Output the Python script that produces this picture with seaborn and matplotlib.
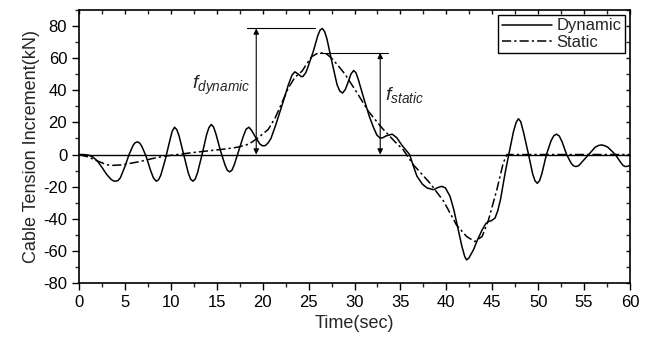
import pandas as pd
import seaborn as sns
import matplotlib.pyplot as plt

# -----------------------------------
# DATA
# -----------------------------------

dyn_time = [0, 0.5, 1.0, 1.5, 2.0, 2.5, 3.0, 3.5, 3.75, 4.0, 4.25, 4.5, 5.0,
            5.45, 5.9, 6.1, 6.35, 6.6, 6.85, 7.3, 7.8, 8.1, 8.4, 8.65, 8.9,
            9.4, 9.9, 10.15, 10.4, 10.65, 10.9, 11.4, 11.9, 12.15, 12.4, 12.65,
            12.9, 13.4, 13.9, 14.15, 14.4, 14.65, 14.9, 15.4, 15.9, 16.15, 16.4,
            16.65, 16.9, 17.4, 17.9, 18.2, 18.5, 18.8, 19.2, 19.7, 20.0, 20.3,
            20.6, 20.9, 21.4, 21.9, 22.4, 22.8, 23.2, 23.5, 23.9, 24.2, 24.4,
            24.7, 24.9, 25.5, 26.0, 26.25, 26.5, 26.75, 27.0, 27.45, 28.1, 28.4,
            28.7, 29.0, 29.3, 29.6, 29.9, 30.15, 30.4, 31.0, 31.6, 32.1, 32.45,
            32.8, 33.1, 33.4, 34.1, 34.6, 35.2, 36.0, 36.4, 36.8, 37.4, 37.9,
            38.6, 39.1, 39.5, 39.9, 40.4, 40.8, 41.1, 41.7, 42.0, 42.2, 42.45,
            42.95, 43.4, 43.9, 44.3, 44.6, 44.9, 45.3, 45.6, 45.9, 46.4, 46.8,
            47.3, 47.6, 47.85, 48.1, 48.4, 48.95, 49.4, 49.65, 49.9, 50.15, 50.4,
            50.9, 51.4, 51.7, 52.0, 52.3, 52.6, 53.1, 53.6, 53.85, 54.1, 54.4,
            54.8, 55.5, 56.2, 56.55, 56.9, 57.25, 57.6, 58.4, 59.0, 59.25, 59.5,
            59.75, 60.0]
dyn_force = [0, 0, -0.3, -1.5, -4, -8, -12.3, -15.5, -16.4, -16.6, -16.2, -14.5, -7.5,
             0, 5.8, 7.3, 7.9, 7.2, 5, -1, -10, -14.5, -16.6, -15.8, -13,
             -3, 9, 14.5, 17, 15.5, 11.5, 0, -11.5, -15.3, -16.6, -15.3,
             -11.5, 0, 12.5, 16.8, 18.7, 17.2, 13, 2.5, -6.5, -9.8, -10.8,
             -9.8, -6.5, 2.5, 11.5, 15.8, 17, 15, 11, 6.5, 5.4, 5.6,
             7.3, 10, 18, 27, 36, 43.5, 49.5, 51.5, 50, 48.5, 48.7,
             51, 54, 64, 74, 77.5, 78.5, 76.5, 72, 60, 43.5, 39.5,
             38.3, 40.5, 45, 50, 52.3, 51, 47, 35.2, 24, 16.4, 12,
             10.2, 10.5, 11.5, 12.7, 10.5, 5.5, 0, -7, -13.5, -18.5, -20.8,
             -21.9, -20.5, -19.8, -20.8, -26, -34, -41.7, -57.3, -63.5, -65.6, -64.5,
             -59.4, -53, -46.9, -43, -41.7, -41.2, -39.6, -35, -28, -11.5, 0,
             14, 20, 22.3, 20.5, 14, 0, -12, -16.3, -17.9, -16.3, -12,
             0, 8.5, 11.7, 12.7, 11.5, 8, 0, -5.5, -7, -7.5, -7,
             -4.5, 0, 4.5, 5.6, 6, 5.5, 4.5, 0, -5, -6.8, -7.5,
             -7.3, -6.8]

sta_time = [0, 1.0, 2.0, 3.0, 3.5, 4.5, 5.3, 6.5, 8.0, 9.3, 10.7, 12.5, 14.4,
            16.0, 17.3, 18.5, 19.5, 20.6, 21.35, 22.0, 22.8, 23.5, 24.3, 24.8,
            25.35, 25.9, 26.4, 27.0, 27.5, 28.2, 29.0, 30.4, 31.5, 33.0, 34.4,
            35.3, 36.4, 38.2, 39.7, 41.1, 42.2, 43.1, 43.9, 44.6, 45.5, 46.2,
            46.6, 48.0, 60.0]
sta_force = [0, -1.5, -4, -6.3, -6.8, -6.5, -5.8, -4.5, -2.5, -1, 0, 1.3, 2.5,
             3.5, 4.6, 6.5, 10.4, 15.6, 22.7, 31, 41.5, 48, 52, 56.5,
             61, 62.8, 63.3, 62.5, 60, 55.5, 49.8, 37.3, 27, 16.5, 8,
             3, -6.3, -17.7, -29, -43.8, -51, -54.2, -51, -40.6, -21.9, -5.2,
             0, 0, 0]

dyn_peak = 78.5
sta_peak = 63.3

dyn_df = pd.DataFrame({"Time": dyn_time, "Force": dyn_force})
sta_df = pd.DataFrame({"Time": sta_time, "Force": sta_force})

# -----------------------------------
# STYLE
# -----------------------------------

sns.set_style("ticks")
plt.rcParams["font.family"] = ["Liberation Sans", "DejaVu Sans"]
plt.rcParams["mathtext.fontset"] = "custom"
plt.rcParams["mathtext.it"] = "Liberation Sans:italic"
plt.rcParams["mathtext.rm"] = "Liberation Sans"
plt.rcParams["axes.unicode_minus"] = False

fig = plt.figure(figsize=(6.54, 3.38), dpi=100)
ax = fig.add_axes([0.1208, 0.1627, 0.8425, 0.8077])

# -----------------------------------
# PLOT
# -----------------------------------

sns.lineplot(data=dyn_df, x="Time", y="Force", ax=ax, color="black",
             linewidth=1.1, label="Dynamic", sort=False)
sns.lineplot(data=sta_df, x="Time", y="Force", ax=ax, color="black",
             linewidth=1.1, label="Static", sort=False)
ax.lines[-1].set_dashes([6, 2, 1.5, 2])

ax.axhline(0, color="black", linewidth=1.0, zorder=1)

# dynamic amplitude marker
ax.plot([18.3, 25.7], [dyn_peak, dyn_peak], color="black", linewidth=0.8)
ax.annotate("", xy=(19.3, dyn_peak), xytext=(19.3, 0),
            arrowprops=dict(arrowstyle="<|-|>", color="black", lw=0.8,
                            mutation_scale=8, shrinkA=0, shrinkB=0))
ax.text(12.3, 40.6, r"$f_{dynamic}$", fontsize=14, ha="left", va="baseline")

# static amplitude marker
ax.plot([26.2, 33.7], [sta_peak, sta_peak], color="black", linewidth=0.8)
ax.annotate("", xy=(32.8, sta_peak), xytext=(32.8, 0),
            arrowprops=dict(arrowstyle="<|-|>", color="black", lw=0.8,
                            mutation_scale=8, shrinkA=0, shrinkB=0))
ax.text(33.3, 34, r"$f_{static}$", fontsize=14, ha="left", va="baseline")

# -----------------------------------
# AXES
# -----------------------------------

ax.set_xlim(0, 60)
ax.set_ylim(-80, 90)
ax.set_xticks(range(0, 61, 5))
ax.set_yticks(range(-80, 81, 20))
ax.set_xticks([x + 2.5 for x in range(0, 60, 5)], minor=True)
ax.set_yticks(range(-70, 91, 20), minor=True)

ax.tick_params(axis="both", which="major", direction="out", length=5,
               width=1, labelsize=12, colors="black")
ax.tick_params(axis="both", which="minor", direction="out", length=3, width=1)
ax.tick_params(top=True, right=True, which="both")

for side in ["top", "right", "bottom", "left"]:
    ax.spines[side].set_visible(True)
    ax.spines[side].set_linewidth(1.2)
    ax.spines[side].set_color("black")

# top/right ticks point inward
for tk in ax.xaxis.get_major_ticks() + ax.xaxis.get_minor_ticks():
    tk.tick2line.set_marker(3)
    tk.tick2line.set_markersize(3)
for tk in ax.yaxis.get_major_ticks() + ax.yaxis.get_minor_ticks():
    tk.tick2line.set_marker(0)
    tk.tick2line.set_markersize(3)

ax.set_xlabel("Time(sec)", fontsize=13, labelpad=4)
ax.set_ylabel("Cable Tension Increment(kN)", fontsize=13, labelpad=2)

leg = ax.legend(loc="upper right", fontsize=12, frameon=True, fancybox=False,
                edgecolor="black", framealpha=1, borderpad=0.2,
                handlelength=3.0, handletextpad=0.3, labelspacing=0.1,
                borderaxespad=0.3)
leg.get_frame().set_linewidth(1.0)

plt.savefig("out.png", dpi=100)
